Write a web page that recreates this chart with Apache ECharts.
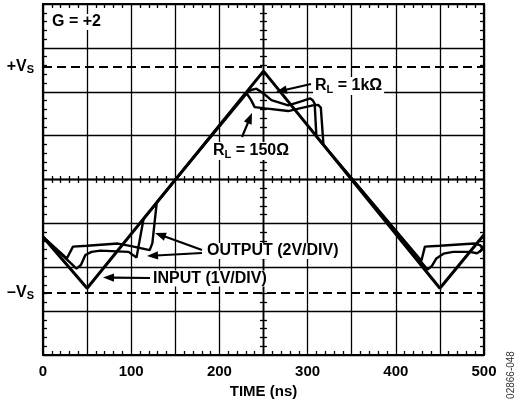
<!DOCTYPE html>
<html><head><meta charset="utf-8">
<script src="https://cdn.jsdelivr.net/npm/echarts@6/dist/echarts.min.js"></script>
<style>html,body{margin:0;padding:0;background:#fff}#c{width:517px;height:404px}</style>
</head><body><div id="c"></div>
<script>
// Time in ns, vertical in screen divisions (input 1V/div, output 2V/div)
const timeTickLabels = [0, 100, 200, 300, 400, 500];
const inputTrace = [[0,-1.31],[50,-2.48],[250,2.47],[450,-2.48],[500,-1.26]];
const output150 = [[0,-1.31],[27,-1.80],[34,-1.53],[50,-1.51],[85,-1.46],[100,-1.52],[121,-1.61],[124,-1.45],[129,-0.52],
  [231,1.96],[236,1.81],[240,1.65],[252,1.62],[278,1.56],[291,1.62],[306,1.69],[312,1.70],[315,1.64],[318,0.79],
  [429,-1.85],[433,-1.53],[450,-1.51],[480,-1.47],[490,-1.46],[496,-1.50],[498,-1.58],[495,-1.65]];
const output1k = [[0,-1.31],[38,-2.03],[43,-1.95],[48,-1.72],[55,-1.65],[65,-1.62],[97,-1.65],[106,-1.78],[109,-1.45],[114,-0.90],
  [229,1.95],[236,2.04],[242,2.07],[250,1.96],[259,1.81],[278,1.69],[291,1.77],[303,1.85],[306,1.80],[308,1.73],[310,0.98],
  [436,-2.05],[441,-1.97],[446,-1.80],[454,-1.69],[465,-1.65],[484,-1.65],[492,-1.68],[497,-1.62],[500,-1.50]];
const supplyLevels = [2.58, -2.58];
const supplyLabels = ['{v|+V}{s|S}', '{v|–V}{s|S}'];

const F = "'Liberation Sans', Arial, Helvetica, sans-serif";
const richSub = {
  v: {fontSize: 16, fontWeight: 'bold', fontFamily: F, color: '#000'},
  s: {fontSize: 11, fontWeight: 'bold', fontFamily: F, color: '#000', padding: [7,0,0,0]}
};
const chart = echarts.init(document.getElementById('c'), null, {renderer: 'canvas'});

function xAxisDef(pos, inside, extra) {
  return Object.assign({
    type: 'value', min: 0, max: 500, interval: 50, position: pos,
    axisLabel: {show: false}, splitLine: {show: false},
    axisTick: {show: false, inside: inside},
    axisLine: {show: true, onZero: false, lineStyle: {color: '#000', width: 2.2}},
    minorTick: {show: true, splitNumber: 5, length: 4, lineStyle: {color: '#000', width: 1.3}}
  }, extra || {});
}
function yAxisDef(pos, inside, extra) {
  return Object.assign({
    type: 'value', min: -4, max: 4, interval: 1, position: pos,
    axisLabel: {show: false}, splitLine: {show: false},
    axisTick: {show: false, inside: inside},
    axisLine: {show: true, onZero: false, lineStyle: {color: '#000', width: 2.2}},
    minorTick: {show: true, splitNumber: 5, length: 4, lineStyle: {color: '#000', width: 1.3}}
  }, extra || {});
}
const centerLine = {show: true, onZero: true, onZeroAxisIndex: 0, lineStyle: {color: '#000', width: 1.4}};
const centerMinor = {show: true, splitNumber: 5, length: 3.5, lineStyle: {color: '#000', width: 1.3}};

const xAxes = [
  xAxisDef('bottom', true, {
    axisLabel: {show: true, margin: 9, color: '#000', fontFamily: F, fontWeight: 'bold', fontSize: 15,
      formatter: v => timeTickLabels.indexOf(v) >= 0 ? String(v) : ''},
    splitLine: {show: true, lineStyle: {color: '#000', width: 1.3}},
    name: 'TIME (ns)', nameLocation: 'middle', nameGap: 25,
    nameTextStyle: {color: '#000', fontFamily: F, fontWeight: 'bold', fontSize: 15}
  }),
  xAxisDef('top', true),
  xAxisDef('bottom', true, {axisLine: centerLine, minorTick: centerMinor}),
  xAxisDef('bottom', false, {axisLine: centerLine, minorTick: centerMinor}),
  {type: 'value', min: -250, max: 250, show: false, position: 'bottom', axisLine: {onZero: false}}
];
const yCenterLine = {show: true, onZero: true, onZeroAxisIndex: 4, lineStyle: {color: '#000', width: 1.4}};
const yAxes = [
  yAxisDef('left', true, {splitLine: {show: true, lineStyle: {color: '#000', width: 1.3}}}),
  yAxisDef('right', true),
  yAxisDef('left', true, {axisLine: yCenterLine, minorTick: centerMinor}),
  yAxisDef('left', false, {axisLine: yCenterLine, minorTick: centerMinor})
];

function arrow(x1, y1, x2, y2) {
  const dx = x2 - x1, dy = y2 - y1, len = Math.hypot(dx, dy), ux = dx / len, uy = dy / len;
  const hl = 11, hw = 4.2;
  const bx = x2 - ux * hl, by = y2 - uy * hl;
  return [
    {type: 'line', z: 100, shape: {x1: x1, y1: y1, x2: bx + ux * 2, y2: by + uy * 2}, style: {stroke: '#000', lineWidth: 2.2}},
    {type: 'polygon', z: 100, shape: {points: [[x2, y2], [bx - uy * hw, by + ux * hw], [bx + uy * hw, by - ux * hw]]}, style: {fill: '#000'}}
  ];
}
function label(text, x, y) {
  return {type: 'text', z: 101, x: x, y: y, style: {text: text, fill: '#000', font: 'bold 16px ' + F,
    textAlign: 'left', textVerticalAlign: 'middle', backgroundColor: '#fff', padding: [0, 2], rich: richSub}};
}

const graphics = [].concat(
  [label('G = +2', 50, 22)],
  [label('{v|R}{s|L}{v| = 1kΩ}', 313, 86)],
  [label('{v|R}{s|L}{v| = 150Ω}', 211, 151)],
  [label('OUTPUT (2V/DIV)', 205, 251)],
  [label('INPUT (1V/DIV)', 151, 278.5)],
  arrow(311, 84, 276, 92),
  arrow(242, 137, 252, 113),
  arrow(202, 250, 155, 233),
  arrow(202, 253, 147, 256),
  arrow(150, 278, 103, 277.5),
  [{type: 'text', z: 101, x: 511, y: 375, rotation: Math.PI / 2,
    style: {text: '02866-048', fill: '#333', font: '10px ' + F, textAlign: 'center', textVerticalAlign: 'middle'}}]
);

chart.setOption({
  animation: false,
  backgroundColor: '#fff',
  grid: {left: 43, right: 33, top: 4, bottom: 49, containLabel: false},
  xAxis: xAxes,
  yAxis: yAxes,
  series: [
    {type: 'line', data: inputTrace, symbol: 'none', xAxisIndex: 0, yAxisIndex: 0, z: 3,
      lineStyle: {color: '#000', width: 3},
      markLine: {silent: true, symbol: ['none', 'none'], animation: false,
        lineStyle: {color: '#000', width: 2.2, type: [9, 5]},
        label: {show: true, position: 'start', distance: 9, color: '#000', fontFamily: F, fontWeight: 'bold', fontSize: 16, rich: richSub},
        data: supplyLevels.map((v, i) => ({yAxis: v, label: {formatter: supplyLabels[i]}}))}},
    {type: 'line', data: output150, symbol: 'none', xAxisIndex: 0, yAxisIndex: 0, z: 3,
      lineStyle: {color: '#000', width: 2.4}},
    {type: 'line', data: output1k, symbol: 'none', xAxisIndex: 0, yAxisIndex: 0, z: 3,
      lineStyle: {color: '#000', width: 2.4}}
  ],
  graphic: graphics
});
</script></body></html>
